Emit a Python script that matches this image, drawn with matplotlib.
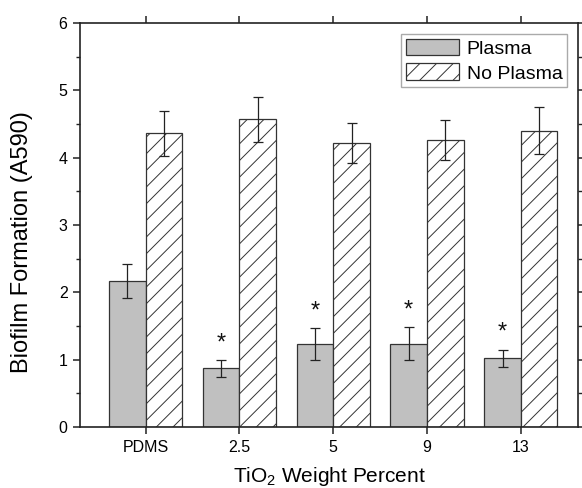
import numpy as np
import matplotlib
matplotlib.use("Agg")
import matplotlib.pyplot as plt
from matplotlib.ticker import MultipleLocator

plt.rcParams["font.family"] = ["Liberation Sans", "DejaVu Sans"]
plt.rcParams["mathtext.default"] = "regular"
plt.rcParams["hatch.linewidth"] = 0.7
plt.rcParams["hatch.color"] = "#555555"

# data
categories = ["PDMS", "2.5", "5", "9", "13"]
plasma = [2.17, 0.87, 1.23, 1.24, 1.02]
plasma_err = [0.25, 0.13, 0.24, 0.24, 0.13]
no_plasma = [4.36, 4.57, 4.22, 4.26, 4.40]
no_plasma_err = [0.33, 0.33, 0.30, 0.30, 0.35]
significant = [False, True, True, True, True]

BAR_W = 0.39
EDGE = "#333333"


def main():
    fig = plt.figure(figsize=(5.82, 4.88), dpi=100)
    ax = fig.add_axes([80 / 582, 61 / 488, 498 / 582, 404 / 488])

    x = np.arange(len(categories))
    err_kw = dict(ecolor="#222222", elinewidth=0.9, capsize=3.3, capthick=0.9)

    ax.bar(x - BAR_W / 2, plasma, BAR_W, yerr=plasma_err, color="#c0c0c0",
           edgecolor=EDGE, linewidth=0.9, error_kw=err_kw, label="Plasma", zorder=2)
    ax.bar(x + BAR_W / 2, no_plasma, BAR_W, yerr=no_plasma_err, color="white",
           edgecolor=EDGE, linewidth=0.9, hatch="//", error_kw=err_kw,
           label="No Plasma", zorder=2)

    for xi, v, e, sig in zip(x, plasma, plasma_err, significant):
        if sig:
            ax.annotate("*", (xi - BAR_W / 2, v + e), xytext=(0, 4),
                        textcoords="offset points", ha="center", va="bottom",
                        fontsize=17, color="#111111")

    ax.set_xlim(-0.70, 4.61)
    ax.set_ylim(0, 6)
    ax.set_xticks(x)
    ax.set_xticklabels(categories)
    ax.yaxis.set_major_locator(MultipleLocator(1))
    ax.yaxis.set_minor_locator(MultipleLocator(0.5))

    for s in ax.spines.values():
        s.set_linewidth(1.2)
        s.set_color("#222222")

    ax.tick_params(axis="both", which="major", direction="out", length=5,
                   width=1.1, color="#222222", labelsize=11.5, pad=4)
    ax.tick_params(axis="y", which="minor", direction="out", length=3,
                   width=1.0, color="#222222")
    ax.tick_params(axis="x", top=True)
    ax.tick_params(axis="y", which="both", right=True)

    ax.set_ylabel("Biofilm Formation (A590)", fontsize=17)
    ax.set_xlabel("TiO$_2$ Weight Percent", fontsize=15)
    ax.yaxis.set_label_coords(-0.094, 0.458)
    ax.xaxis.set_label_coords(0.5, -0.095)

    leg = ax.legend(loc="upper right", fontsize=14, fancybox=False,
                    framealpha=1, edgecolor="#aaaaaa", borderpad=0.25,
                    borderaxespad=0.55, handlelength=2.7, handleheight=0.95,
                    handletextpad=0.4, labelspacing=0.3)
    leg.get_frame().set_linewidth(1.0)

    fig.savefig("out.png", dpi=100)
    plt.close(fig)


if __name__ == "__main__":
    main()
